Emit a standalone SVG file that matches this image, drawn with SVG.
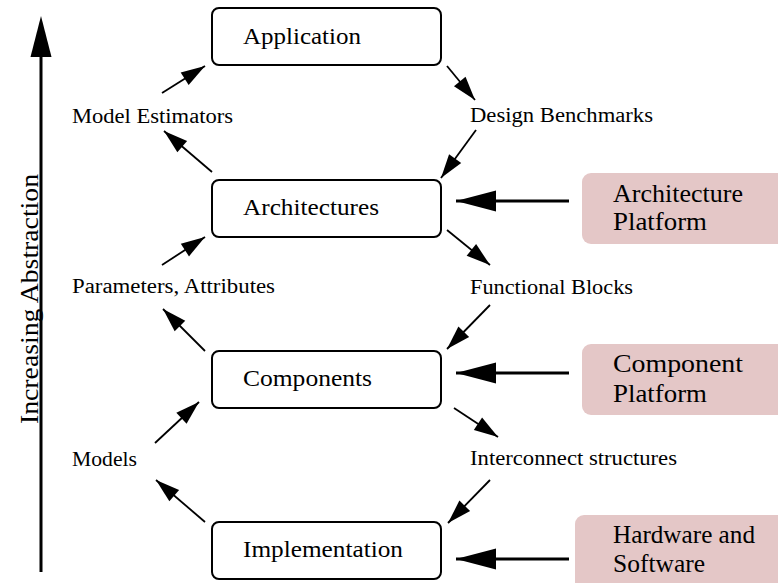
<svg xmlns="http://www.w3.org/2000/svg" width="778" height="583" viewBox="0 0 778 583">
  <style>
    .box { fill: #ffffff; stroke: #000000; stroke-width: 2; }
    .plat { fill: #e4c7c7; stroke: none; }
    .lbl { font-family: "Liberation Serif", "Times New Roman", serif; font-size: 24px; fill: #000; }
    .sm { font-family: "Liberation Serif", "Times New Roman", serif; font-size: 20px; fill: #000; }
    .pt { font-family: "Liberation Serif", "Times New Roman", serif; font-size: 25px; fill: #000; }
    .thin { stroke: #000; stroke-width: 1.8; fill: none; marker-end: url(#headS); }
    .thick { stroke: #000; stroke-width: 3; fill: none; marker-end: url(#headL); }
  </style>
  <defs>
    <marker id="headS" markerUnits="userSpaceOnUse" markerWidth="25" markerHeight="16" refX="24" refY="7.5" orient="auto" overflow="visible">
      <path d="M0,0 L24,7.5 L0,15 Z" fill="#000"/>
    </marker>
    <marker id="headL" markerUnits="userSpaceOnUse" markerWidth="42" markerHeight="22" refX="40" refY="10.5" orient="auto" overflow="visible">
      <path d="M0,0 L40,10.5 L0,21 Z" fill="#000"/>
    </marker>
  </defs>
  <rect width="778" height="583" fill="#ffffff"/>

  <!-- abstraction axis -->
  <g id="axis">
    <line x1="41" y1="572" x2="41" y2="55" stroke="#000" stroke-width="3"/>
    <polygon points="41,16 30.5,57 51.5,57" fill="#000"/>
    <text class="lbl" transform="translate(38,299) rotate(-90)" text-anchor="middle" textLength="250" lengthAdjust="spacingAndGlyphs" style="font-size:25px">Increasing Abstraction</text>
  </g>

  <!-- abstraction levels -->
  <g id="application">
    <rect class="box" x="212" y="8" width="229" height="57" rx="7"/>
    <text class="lbl" x="243" y="44" textLength="118" lengthAdjust="spacingAndGlyphs">Application</text>
  </g>
  <g id="architectures">
    <rect class="box" x="212" y="180" width="229" height="57" rx="7"/>
    <text class="lbl" x="243" y="215" textLength="136" lengthAdjust="spacingAndGlyphs">Architectures</text>
  </g>
  <g id="components">
    <rect class="box" x="212" y="351" width="229" height="57" rx="7"/>
    <text class="lbl" x="243" y="386" textLength="129" lengthAdjust="spacingAndGlyphs">Components</text>
  </g>
  <g id="implementation">
    <rect class="box" x="212" y="522" width="229" height="57" rx="7"/>
    <text class="lbl" x="243" y="557" textLength="160" lengthAdjust="spacingAndGlyphs">Implementation</text>
  </g>

  <!-- platforms -->
  <g id="architecture-platform">
    <rect class="plat" x="582" y="173" width="210" height="71" rx="9"/>
    <text class="pt" x="613" y="202" textLength="130" lengthAdjust="spacingAndGlyphs">Architecture</text>
    <text class="pt" x="613" y="230" textLength="94" lengthAdjust="spacingAndGlyphs">Platform</text>
  </g>
  <g id="component-platform">
    <rect class="plat" x="582" y="344" width="210" height="71" rx="9"/>
    <text class="pt" x="613" y="372" textLength="130" lengthAdjust="spacingAndGlyphs">Component</text>
    <text class="pt" x="613" y="402" textLength="94" lengthAdjust="spacingAndGlyphs">Platform</text>
  </g>
  <g id="hw-sw-platform">
    <rect class="plat" x="575" y="515" width="215" height="80" rx="9"/>
    <text class="pt" x="613" y="543" textLength="142" lengthAdjust="spacingAndGlyphs">Hardware and</text>
    <text class="pt" x="613" y="572" textLength="92" lengthAdjust="spacingAndGlyphs">Software</text>
  </g>

  <!-- flow labels -->
  <g id="model-estimators"><text class="sm" x="72" y="123" textLength="161" lengthAdjust="spacingAndGlyphs">Model Estimators</text></g>
  <g id="design-benchmarks"><text class="sm" x="470" y="122" textLength="183" lengthAdjust="spacingAndGlyphs">Design Benchmarks</text></g>
  <g id="parameters-attributes"><text class="sm" x="72" y="293" textLength="203" lengthAdjust="spacingAndGlyphs">Parameters, Attributes</text></g>
  <g id="functional-blocks"><text class="sm" x="470" y="294" textLength="163" lengthAdjust="spacingAndGlyphs">Functional Blocks</text></g>
  <g id="models"><text class="sm" x="72" y="466" textLength="65" lengthAdjust="spacingAndGlyphs">Models</text></g>
  <g id="interconnect-structures"><text class="sm" x="470" y="465" textLength="207" lengthAdjust="spacingAndGlyphs">Interconnect structures</text></g>

  <!-- connectors -->
  <g id="connectors">
    <line class="thin" x1="162" y1="93" x2="205" y2="66"/>
    <line class="thin" x1="212" y1="172" x2="164" y2="131"/>
    <line class="thin" x1="447" y1="66" x2="475" y2="100"/>
    <line class="thin" x1="476" y1="130" x2="441" y2="178"/>
    <line class="thin" x1="162" y1="265" x2="205" y2="237"/>
    <line class="thin" x1="205" y1="351" x2="163" y2="309"/>
    <line class="thin" x1="447" y1="230" x2="490" y2="265"/>
    <line class="thin" x1="490" y1="305" x2="447" y2="349"/>
    <line class="thin" x1="155" y1="443" x2="199" y2="402"/>
    <line class="thin" x1="205" y1="522" x2="156" y2="480"/>
    <line class="thin" x1="454" y1="408" x2="498" y2="437"/>
    <line class="thin" x1="490" y1="480" x2="448" y2="523"/>
    <line class="thick" x1="569" y1="201" x2="456" y2="201"/>
    <line class="thick" x1="569" y1="373" x2="456" y2="373"/>
    <line class="thick" x1="569" y1="559" x2="456" y2="559"/>
  </g>
</svg>
